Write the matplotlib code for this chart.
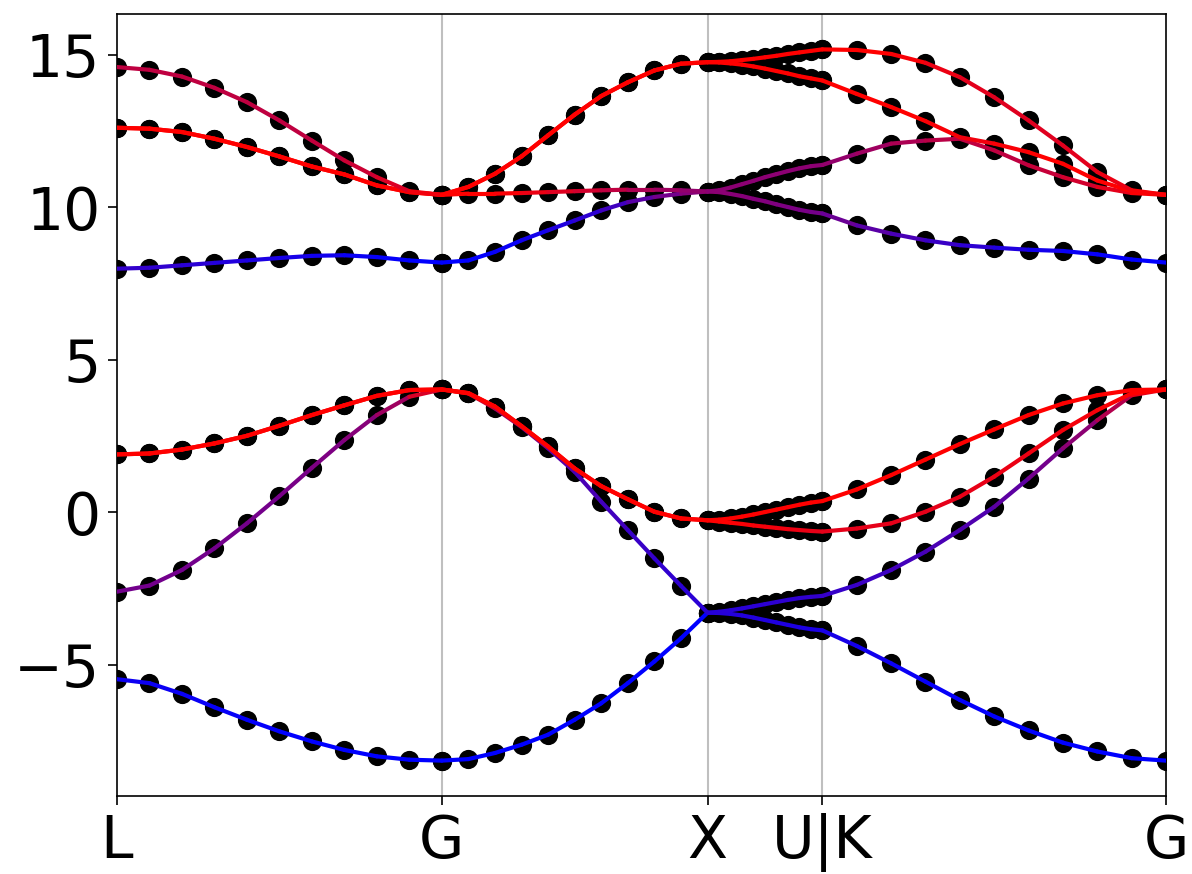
import numpy as np
import matplotlib
matplotlib.use("Agg")
import matplotlib.pyplot as plt
from matplotlib.collections import LineCollection

# k-path ticks
tick_labels = ["L", "G", "X", "U|K", "G"]
tick_pos = [0.0, 1.222, 2.222, 2.654, 3.947]
n_per_seg = 11

# band energies (eV), 8 bands sorted low->high, 11 k-points per segment
bands_LG = [
    [-5.48, -5.61, -5.96, -6.40, -6.81, -7.19, -7.52, -7.80, -8.01, -8.12, -8.15],
    [-2.61, -2.41, -1.90, -1.19, -0.37, 0.52, 1.45, 2.36, 3.18, 3.78, 4.02],
    [1.89, 1.92, 2.05, 2.25, 2.50, 2.83, 3.18, 3.50, 3.81, 4.00, 4.02],
    [1.89, 1.92, 2.05, 2.25, 2.50, 2.83, 3.18, 3.50, 3.81, 4.00, 4.02],
    [7.98, 8.01, 8.09, 8.17, 8.25, 8.33, 8.40, 8.42, 8.36, 8.25, 8.18],
    [12.60, 12.57, 12.46, 12.24, 11.97, 11.66, 11.33, 11.07, 10.71, 10.49, 10.40],
    [12.60, 12.57, 12.46, 12.24, 11.97, 11.66, 11.33, 11.07, 10.71, 10.49, 10.40],
    [14.59, 14.50, 14.28, 13.91, 13.44, 12.84, 12.18, 11.53, 10.98, 10.52, 10.40],
]
bands_GX = [
    [-8.15, -8.10, -7.90, -7.63, -7.30, -6.81, -6.27, -5.61, -4.90, -4.14, -3.30],
    [4.02, 3.89, 3.40, 2.79, 2.09, 1.32, 0.34, -0.59, -1.52, -2.42, -3.30],
    [4.02, 3.90, 3.46, 2.82, 2.15, 1.43, 0.85, 0.42, 0.01, -0.21, -0.27],
    [4.02, 3.90, 3.46, 2.82, 2.15, 1.43, 0.85, 0.42, 0.01, -0.21, -0.27],
    [8.18, 8.25, 8.53, 8.91, 9.24, 9.56, 9.89, 10.16, 10.33, 10.44, 10.51],
    [10.40, 10.44, 10.44, 10.46, 10.49, 10.52, 10.55, 10.57, 10.57, 10.55, 10.51],
    [10.40, 10.66, 11.09, 11.66, 12.35, 13.03, 13.64, 14.09, 14.48, 14.70, 14.75],
    [10.40, 10.66, 11.09, 11.66, 12.35, 13.03, 13.64, 14.09, 14.48, 14.70, 14.75],
]
bands_XU = [
    [-3.30, -3.31, -3.34, -3.39, -3.46, -3.54, -3.62, -3.70, -3.78, -3.84, -3.88],
    [-3.30, -3.27, -3.22, -3.16, -3.09, -3.02, -2.95, -2.88, -2.82, -2.78, -2.75],
    [-0.27, -0.31, -0.35, -0.39, -0.44, -0.48, -0.52, -0.56, -0.59, -0.62, -0.64],
    [-0.27, -0.25, -0.21, -0.15, -0.08, 0.00, 0.08, 0.16, 0.24, 0.31, 0.36],
    [10.51, 10.49, 10.43, 10.36, 10.27, 10.19, 10.09, 10.00, 9.91, 9.84, 9.79],
    [10.51, 10.55, 10.64, 10.75, 10.86, 10.98, 11.08, 11.18, 11.27, 11.34, 11.38],
    [14.75, 14.74, 14.71, 14.67, 14.61, 14.54, 14.46, 14.38, 14.29, 14.22, 14.15],
    [14.75, 14.76, 14.78, 14.82, 14.86, 14.91, 14.96, 15.02, 15.07, 15.12, 15.17],
]
bands_KG = [
    [-3.88, -4.39, -4.96, -5.56, -6.16, -6.70, -7.16, -7.56, -7.85, -8.07, -8.15],
    [-2.75, -2.39, -1.90, -1.30, -0.59, 0.17, 1.10, 2.09, 3.01, 3.83, 4.02],
    [-0.64, -0.54, -0.37, 0.01, 0.50, 1.16, 1.92, 2.69, 3.34, 3.89, 4.02],
    [0.36, 0.74, 1.21, 1.72, 2.23, 2.71, 3.18, 3.56, 3.83, 4.00, 4.02],
    [9.79, 9.40, 9.13, 8.91, 8.75, 8.67, 8.60, 8.56, 8.45, 8.28, 8.18],
    [11.38, 11.75, 12.08, 12.18, 12.24, 11.86, 11.37, 10.98, 10.66, 10.46, 10.40],
    [14.15, 13.71, 13.28, 12.82, 12.29, 12.08, 11.80, 11.42, 10.87, 10.52, 10.40],
    [15.17, 15.15, 15.02, 14.73, 14.26, 13.60, 12.84, 12.02, 11.15, 10.55, 10.40],
]

# orbital weight along each band: 0 = blue (s), 1 = red (p)
weights_LG = [
    [0.05, 0.05, 0.04, 0.03, 0.02, 0.01, 0, 0, 0, 0, 0],
    [0.45, 0.45, 0.45, 0.45, 0.45, 0.46, 0.48, 0.5, 0.55, 0.7, 1.0],
    [1.0] * 11,
    [1.0] * 11,
    [0.2, 0.2, 0.18, 0.15, 0.12, 0.1, 0.08, 0.05, 0.03, 0.01, 0],
    [1.0] * 11,
    [1.0] * 11,
    [0.75, 0.75, 0.75, 0.75, 0.75, 0.75, 0.75, 0.78, 0.82, 0.9, 1.0],
]
weights_GX = [
    [0] * 11,
    [1.0, 0.9, 0.7, 0.55, 0.4, 0.3, 0.27, 0.24, 0.2, 0.18, 0.15],
    [1.0] * 11,
    [1.0] * 11,
    [0, 0, 0.02, 0.05, 0.1, 0.15, 0.2, 0.3, 0.4, 0.5, 0.55],
    [1.0, 1.0, 1.0, 0.95, 0.9, 0.85, 0.8, 0.7, 0.65, 0.6, 0.55],
    [1.0] * 11,
    [1.0] * 11,
]
weights_XU = [
    [0.15, 0.15, 0.14, 0.14, 0.13, 0.13, 0.12, 0.12, 0.11, 0.11, 0.1],
    [0.15, 0.15, 0.16, 0.16, 0.17, 0.17, 0.18, 0.18, 0.19, 0.19, 0.2],
    [1.0, 1.0, 0.99, 0.98, 0.97, 0.96, 0.95, 0.94, 0.93, 0.92, 0.9],
    [1.0] * 11,
    [0.55, 0.55, 0.54, 0.53, 0.52, 0.51, 0.5, 0.49, 0.48, 0.47, 0.45],
    [0.55, 0.55, 0.55, 0.55, 0.55, 0.55, 0.55, 0.55, 0.55, 0.55, 0.55],
    [1.0] * 11,
    [1.0] * 11,
]
weights_KG = [
    [0.1, 0.08, 0.05, 0.03, 0.02, 0.01, 0, 0, 0, 0, 0],
    [0.2, 0.22, 0.25, 0.28, 0.3, 0.33, 0.4, 0.5, 0.6, 0.8, 1.0],
    [0.9, 0.9, 0.9, 0.9, 0.9, 0.92, 0.93, 0.95, 0.97, 1.0, 1.0],
    [1.0] * 11,
    [0.45, 0.38, 0.32, 0.25, 0.2, 0.15, 0.1, 0.05, 0.03, 0.01, 0],
    [0.55, 0.6, 0.65, 0.7, 0.75, 0.75, 0.75, 0.8, 0.85, 0.95, 1.0],
    [1.0, 1.0, 1.0, 1.0, 0.95, 0.95, 1.0, 1.0, 1.0, 1.0, 1.0],
    [1.0, 1.0, 1.0, 0.95, 0.9, 0.88, 0.88, 0.88, 0.9, 0.95, 1.0],
]

segments = [bands_LG, bands_GX, bands_XU, bands_KG]
seg_weights = [weights_LG, weights_GX, weights_XU, weights_KG]

# k coordinates along the path
kx = np.concatenate([np.linspace(tick_pos[i], tick_pos[i + 1], n_per_seg)
                     for i in range(len(segments))])

fig = plt.figure(figsize=(1192 / 150, 874 / 150), dpi=150)
ax = fig.add_axes([117 / 1192, 1 - 796 / 874, (1166 - 117) / 1192, (796 - 14) / 874])

for b in range(8):
    e = np.concatenate([np.array(seg[b], dtype=float) for seg in segments])
    w = np.concatenate([np.array(sw[b], dtype=float) for sw in seg_weights])

    # black dots under the coloured lines
    ax.scatter(kx, e, s=85, color="black", zorder=2, linewidths=0)

    pts = np.column_stack([kx, e])
    segs = np.stack([pts[:-1], pts[1:]], axis=1)
    wm = 0.5 * (w[:-1] + w[1:])
    cols = np.column_stack([wm, np.zeros_like(wm), 1 - wm])
    lc = LineCollection(segs, colors=cols, linewidths=2.0, zorder=3,
                        capstyle="round", joinstyle="round")
    ax.add_collection(lc)

for t in tick_pos[1:-1]:
    ax.axvline(t, color="0.75", lw=1.0, zorder=1)

ax.set_xlim(tick_pos[0], tick_pos[-1])
ax.set_ylim(-9.31, 16.33)
ax.set_xticks(tick_pos)
ax.set_xticklabels(tick_labels)
ax.set_yticks([-5, 0, 5, 10, 15])
ax.tick_params(labelsize=28, length=4.5)

fig.savefig("out.png", dpi=150)
